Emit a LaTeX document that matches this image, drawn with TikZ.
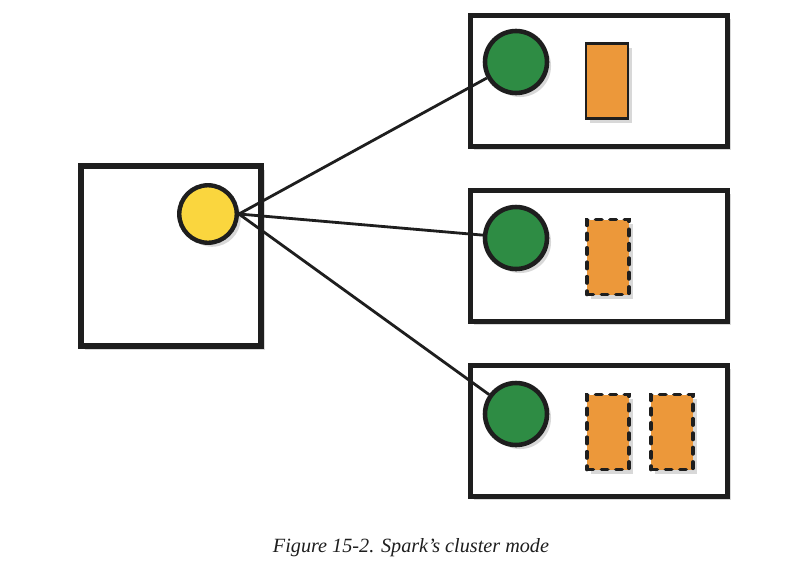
\documentclass[tikz,border=0pt]{standalone}
\usepackage{fontspec}
\setmainfont{Liberation Serif}
\usetikzlibrary{shadows}
\usetikzlibrary{positioning}
\usetikzlibrary{calc}
\definecolor{sparkgreen}{RGB}{46,140,68}
\definecolor{sparkyellow}{RGB}{250,214,62}
\definecolor{sparkorange}{RGB}{236,152,58}
\definecolor{inkblack}{RGB}{30,30,30}

\begin{document}
\begin{tikzpicture}
    [x=0.02cm, y=-0.02cm,
    machine/.style={draw=inkblack, line width=3.1pt, fill=white, rectangle, drop shadow={shadow xshift=2pt, shadow yshift=-2pt, opacity=0.3}},
    driver/.style={draw=inkblack, line width=2.5pt, fill=sparkyellow, circle, minimum size=1.15cm, inner sep=0pt, drop shadow={opacity=0.3}},
    executor/.style={draw=inkblack, line width=2.6pt, fill=sparkgreen, circle, minimum size=1.24cm, inner sep=0pt, drop shadow={opacity=0.3}},
    task/.style={draw=inkblack, line width=1.4pt, fill=sparkorange, rectangle, minimum width=0.84cm, minimum height=1.5cm, inner sep=0pt, drop shadow={opacity=0.3}},
    lazytask/.style={task, dash pattern=on 3.6pt off 4.6pt, line cap=round, line width=2.1pt}]

    \useasboundingbox (0,0) rectangle (794,582);

    % driver machine
    \node[machine, minimum width=3.6cm, minimum height=3.6cm] (drvbox) at (171,256) {};
    \node[driver] (drv) at (208,214) {};

    % worker machines
    \node[machine, minimum width=5.14cm, minimum height=2.62cm] (wk1) at (599,81) {};
    \node[machine, minimum width=5.14cm, minimum height=2.62cm] (wk2) at (599,256) {};
    \node[machine, minimum width=5.14cm, minimum height=2.62cm] (wk3) at (599,431) {};

    \node[executor] (ex1) at (516,62) {};
    \node[executor] (ex2) at (516,238) {};
    \node[executor] (ex3) at (516,414) {};

    \node[task] (t1) at (607,81) {};
    \node[lazytask] (t2) at (608,257) {};
    \node[lazytask] (t3) at (608,432) {};
    \node[lazytask] (t4) at (672,432) {};

    % connections
    \draw [inkblack, line width=1.6pt] (drv.east) -- (ex1);
    \draw [inkblack, line width=1.6pt] (drv.east) -- (ex2);
    \draw [inkblack, line width=1.6pt] (drv.east) -- (ex3);

    \node [font=\itshape\fontsize{11.5}{14}\selectfont, inkblack] (cap) at (411,548) {Figure 15-2. Spark’s cluster mode};
\end{tikzpicture}
\end{document}
